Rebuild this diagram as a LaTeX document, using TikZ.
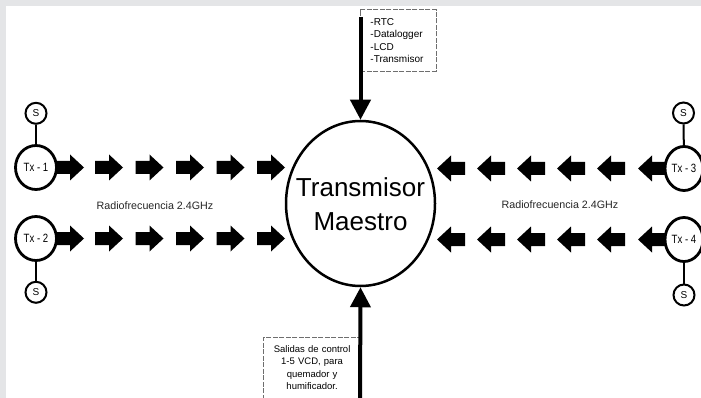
\documentclass[tikz,border=0pt]{standalone}
\usepackage{fontspec}
\setmainfont{Liberation Sans}
\newfontfamily\narrowfont[FakeStretch=0.8]{Liberation Sans}
\usetikzlibrary{arrows.meta,shapes.geometric}
\definecolor{bggray}{HTML}{E4E5E7}
\definecolor{boxgray}{HTML}{6E6E6E}
\begin{document}
\begin{tikzpicture}[x=1pt,y=-1pt,
  blockR/.pic={\fill (0,-6.5) -- (14,-6.5) -- (14,-13) -- (28,0) -- (14,13) -- (14,6.5) -- (0,6.5) -- cycle;},
  blockL/.pic={\fill (0,0) -- (14,-13) -- (14,-6.5) -- (28,-6.5) -- (28,6.5) -- (14,6.5) -- (14,13) -- cycle;},
  txnode/.style={draw, ellipse, line width=2.8, fill=white, minimum width=41, minimum height=44, inner sep=0, font=\narrowfont\fontsize{12}{14}\selectfont},
  snode/.style={draw, circle, line width=2, fill=white, minimum size=21, inner sep=0, font=\fontsize{10}{12}\selectfont},
  link/.style={line width=2},
  dbox/.style={draw=boxgray, line width=0.9, dash pattern=on 5pt off 1.5pt, inner ysep=0},
  vline/.style={line width=4, -{Triangle[width=20pt,length=20pt]}},
  rflabel/.style={font=\fontsize{10.7}{12}\selectfont, text=black!85}
]
\fill[bggray] (0,0) rectangle (701,398);
\fill[white] (6,6) rectangle (701,398);
\useasboundingbox (0,0) rectangle (701,398);

% master
\node[draw, ellipse, line width=2.5, minimum width=149, minimum height=165, inner sep=0] (master) at (360.5,203.5) {};
\node[align=center, inner sep=0, font=\fontsize{26}{34}\selectfont] (mastertext) at (360.5,204) {Transmisor\\Maestro};

% block arrows, left side
\foreach \yy in {167.5,238.5}{
  \fill (36,\yy-6.5) rectangle (57,\yy+6.5);
  \pic at (56,\yy) {blockR};
  \foreach \xx in {95,135.5,176,216.5,257}{\pic at (\xx,\yy) {blockR};}
}
% block arrows, right side
\foreach \yy in {168.5,239.5}{
  \fill (665,\yy-6.5) rectangle (684,\yy+6.5);
  \pic at (638,\yy) {blockL};
  \foreach \xx in {437,477,517,557,597}{\pic at (\xx,\yy) {blockL};}
}

% transmitters and sensors
\node[txnode] (tx1) at (36,167.5) {Tx - 1};
\node[txnode] (tx2) at (36,238.5) {Tx - 2};
\node[txnode, minimum width=38] (tx3) at (684,168.5) {Tx - 3};
\node[txnode, minimum width=38] (tx4) at (684,239.5) {Tx - 4};
\node[snode] (s1) at (36,113.3) {S};
\node[snode] (s2) at (36,292.3) {S};
\node[snode] (s3) at (683.5,113) {S};
\node[snode] (s4) at (684,295) {S};
\draw[link] (s1) -- (tx1);
\draw[link] (s2) -- (tx2);
\draw[link] (s3) -- (tx3);
\draw[link] (s4) -- (tx4);

% labels
\node[rflabel] (rf1) at (155,206) {Radiofrecuencia 2.4GHz};
\node[rflabel] (rf2) at (560,205) {Radiofrecuencia 2.4GHz};

% boxes
\node[dbox, anchor=north west, text width=55.7, inner xsep=10, minimum height=61.4, align=left,
      font=\fontsize{10}{12.4}\selectfont] (topbox) at (360,9.3) {-RTC\\-Datalogger\\-LCD\\-Transmisor};
\node[dbox, anchor=north west, text width=76.7, inner xsep=10, minimum height=61, align=center,
      font=\fontsize{9.5}{12.6}\selectfont] (botbox) at (263.3,336.7) {Salidas de control\\1-5 VCD, para\\quemador y\\humificador.};

% vertical arrows
\coordinate (topin) at (360.5,17);
\coordinate (botin) at (360,400);
\draw[vline] (topin) -- (master.north);
\draw[vline] (botin) -- (master.south);
\end{tikzpicture}
\end{document}
